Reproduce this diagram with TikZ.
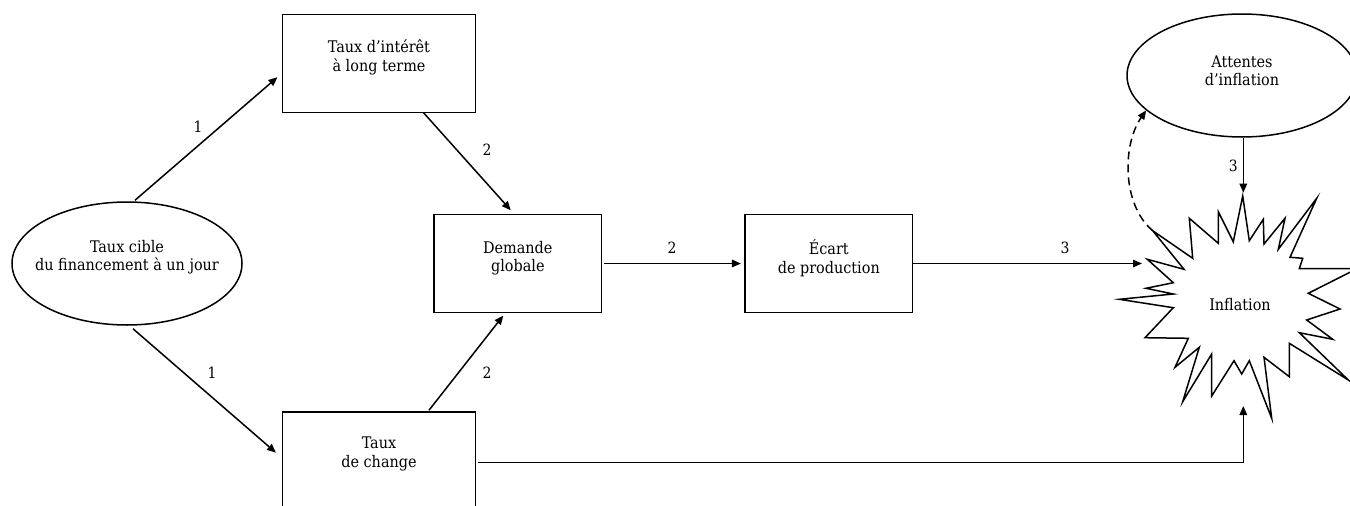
\documentclass[tikz,border=0pt]{standalone}
\usepackage{fontspec}
\setmainfont{DejaVu Serif Condensed}
\usetikzlibrary{arrows.meta,calc,shapes.geometric}
\begin{document}
\begin{tikzpicture}[x=1pt,y=-1pt,
  conn/.style={line width=1.5pt,-{Triangle[length=9pt,width=7.5pt]}},
  boxnode/.style={draw,line width=1.5pt,rectangle,minimum width=192.6pt,minimum height=98pt,inner sep=0pt},
  ellnode/.style={draw,line width=1.5pt,ellipse,minimum width=230pt,minimum height=123pt,inner sep=0pt},
  lbl/.style={font=\fontsize{16}{18.5}\selectfont,align=center,inner sep=0pt},
  num/.style={font=\fontsize{15.5}{15.5}\selectfont,inner sep=0pt}]
\useasboundingbox (0,0) rectangle (1350,506);
\clip (0,0) rectangle (1350,506);
% nodes
\node[ellnode] (tcible) at (127,263.5) {};
\node[lbl] (tciblet) at (127,257) {Taux cible\\du financement à un jour};
\node[boxnode] (tint) at (379,63.7) {};
\node[lbl] (tintt) at (379,57.5) {Taux d’intérêt\\à long terme};
\node[boxnode] (tchg) at (379,461) {};
\node[lbl] (tchgt) at (379,454) {Taux\\de change};
\node[boxnode,minimum width=167.7pt] (dem) at (517.8,263.5) {};
\node[lbl] (demt) at (517.8,258) {Demande\\globale};
\node[boxnode,minimum width=167.7pt] (ecart) at (828.8,263.5) {};
\node[lbl] (ecartt) at (828.8,258) {Écart\\de production};
\node[ellnode] (att) at (1242,75.5) {};
\node[lbl] (attt) at (1242,71) {Attentes\\d’inflation};
% starburst
\draw[line width=1.5pt,line join=miter]
 (1242.7,196) -- (1249.3,240.7) -- (1263.3,219.3) -- (1264,244) -- (1285,218.3)
 -- (1278.3,249.3) -- (1316.7,198.3) -- (1290,257.3) -- (1302.7,258.3) -- (1299.3,268.7)
 -- (1357,268.7) -- (1308.3,293.3) -- (1340,309) -- (1306.7,320) -- (1332.7,339.3)
 -- (1299.3,332.7) -- (1348.3,380) -- (1289.3,343.3) -- (1289.3,376.7) -- (1264,357.3)
 -- (1271.7,418.3) -- (1249.3,360.7) -- (1241.7,374) -- (1234,360.7) -- (1211.7,396)
 -- (1211.7,354) -- (1182.7,401.7) -- (1199.3,347.3) -- (1175,367.3) -- (1188.3,338.3)
 -- (1145,337.7) -- (1173.3,307.7) -- (1119.3,299.3) -- (1173.3,294) -- (1146,288.3)
 -- (1173.3,282.7) -- (1147.3,259.3) -- (1184,269.3) -- (1152.7,230.7) -- (1192.7,258.3)
 -- (1189.3,218.3) -- (1218.3,243.3) -- (1218.3,211.7) -- (1233.3,241.7) -- cycle;
\node[lbl] (infl) at (1240,305) {Inflation};
\coordinate (inW) at (1142,263.5);
\coordinate (inN) at (1243.3,192.7);
\coordinate (inS) at (1243.3,406);
\coordinate (dstart) at (1152.7,230.7);
% connectors
\draw[conn] ($(tcible.north)+(8,-1)$) -- ($(tint.west)+(-4.5,13.5)$);
\draw[conn] ($(tcible.south)+(6,3)$) -- ($(tchg.west)+(-6,-8.3)$);
\draw[conn] ($(tint.south)+(44.3,-1)$) -- ($(dem.north)+(-7,-3.5)$);
\draw[conn] ($(tchg.north)+(50,-1)$) -- ($(dem.south)+(-14.5,2.3)$);
\draw[conn] ($(dem.east)+(1.6,0)$) -- ($(ecart.west)+(-3.3,0)$);
\draw[conn] (ecart.east) -- (inW);
\draw[conn] ($(att.south)+(1.3,0)$) -- (inN);
\draw[conn] ($(tchg.east)+(2,1.5)$) -| (inS);
\draw[conn,dash pattern=on 8pt off 5pt] (dstart) .. controls (1122,205) and (1122,145) .. (att.200);
% numbers
\node[num] (n1) at (198,127) {1};
\node[num] (n2) at (212,373) {1};
\node[num] (n3) at (487,150) {2};
\node[num] (n4) at (487,373) {2};
\node[num] (n5) at (672,248) {2};
\node[num] (n6) at (1065,248) {3};
\node[num] (n7) at (1233.3,165.7) {3};
\end{tikzpicture}
\end{document}
